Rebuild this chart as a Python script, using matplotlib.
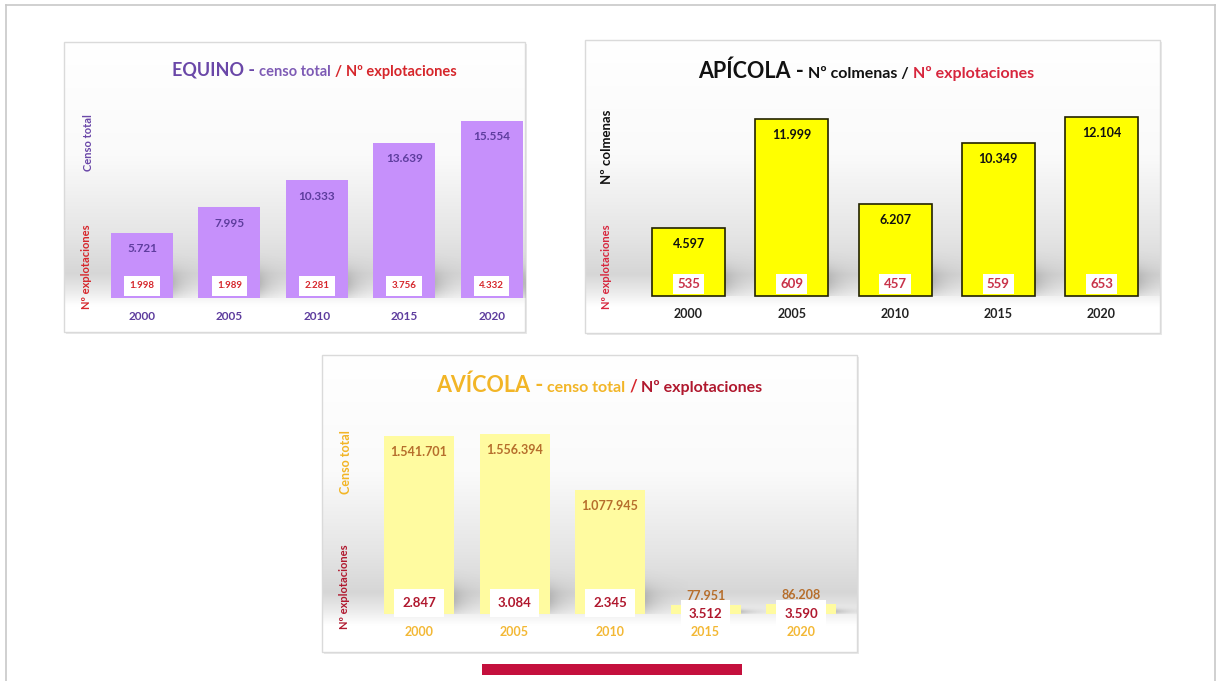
import numpy as np
import matplotlib
matplotlib.use("Agg")
import matplotlib.pyplot as plt
from matplotlib.patches import Rectangle

plt.rcParams['font.family'] = ['Lato', 'DejaVu Sans']

# ---- data -------------------------------------------------------------
years = ["2000", "2005", "2010", "2015", "2020"]
equino_censo = [5721, 7995, 10333, 13639, 15554]
equino_explot = [1998, 1989, 2281, 3756, 4332]
apicola_colmenas = [4597, 11999, 6207, 10349, 12104]
apicola_explot = [535, 609, 457, 559, 653]
avicola_censo = [1541701, 1556394, 1077945, 77951, 86208]
avicola_explot = [2847, 3084, 2345, 3512, 3590]

W, H = 1218, 681
fig = plt.figure(figsize=(W / 100, H / 100), dpi=100)
fig.patch.set_facecolor('white')

page = fig.add_axes([0, 0, 1, 1])
page.axis('off')
page.set_xlim(0, W)
page.set_ylim(H, 0)


def miles(v):
    return f"{v:,}".replace(",", ".")


def px_axes(x0, y0, x1, y1):
    ax = fig.add_axes([x0 / W, 1 - y1 / H, (x1 - x0) / W, (y1 - y0) / H])
    ax.patch.set_alpha(0)
    for s in ax.spines.values():
        s.set_visible(False)
    ax.set_xticks([])
    ax.set_yticks([])
    return ax


def panel_background(x0, y0, x1, y1):
    page.add_patch(Rectangle((x0 + 2, y0 + 2), x1 - x0, y1 - y0,
                             fc='#e9e9e9', ec='none', zorder=0))
    rel = np.linspace(0, 1, 400)
    shade = np.interp(rel, [0, 0.40, 0.66, 0.80, 0.86, 0.91, 1.0],
                      [0, 0.02, 0.10, 0.16, 0.08, 0.0, 0.0])
    g = 1 - shade
    img = np.repeat(np.dstack([g, g, g]).reshape(-1, 1, 3), 2, axis=1)
    page.imshow(img, extent=(x0, x1, y1, y0), aspect='auto',
                interpolation='bilinear', zorder=1)
    page.add_patch(Rectangle((x0, y0), x1 - x0, y1 - y0, fc='none',
                             ec='#dadada', lw=1, zorder=2))
    return Rectangle((x0, y0), x1 - x0, y1 - y0, transform=page.transData)


def title_pieces(cx, baseline, pieces, gap=4):
    renderer = fig.canvas.get_renderer()
    texts, widths = [], []
    for s, size, color in pieces:
        t = page.text(0, baseline, s, fontsize=size, color=color,
                      fontweight='bold', ha='left', va='baseline', zorder=5)
        texts.append(t)
        widths.append(t.get_window_extent(renderer).width)
    total = sum(widths) + gap * (len(pieces) - 1)
    x = cx - total / 2
    for t, w in zip(texts, widths):
        t.set_x(x)
        x += w + gap


def bar_panel(values, explot, clip, c0, sp, wpx, base, k, top_px,
              bar_kw, val_color, val_size, exp_color, exp_size, exp_pad,
              year_color, year_size, exp_off=12, small_exp_off=1):
    n = len(values)
    left = c0 - 0.5 * sp
    right = c0 + (n - 0.5) * sp
    ax = px_axes(left, top_px, right, base + 30)
    w = wpx / sp
    xs = np.arange(n)

    # soft shadows on the floor to the right of each bar
    for i, v in enumerate(values):
        hpx = min(v * k, 55)
        nx, ny = 60, 60
        dx = np.linspace(0, 1, nx)[None, :]
        dy = np.linspace(0, 1, ny)[:, None]
        alpha = 0.30 * np.exp(-dx / 0.35) * np.exp(-((dy - 0.25) ** 2) / 0.08)
        rgba = np.zeros((ny, nx, 4))
        rgba[..., :3] = 0.35
        rgba[..., 3] = alpha
        im = ax.imshow(rgba, extent=(i + w / 2, i + w / 2 + 0.45, 0, hpx / k),
                       origin='lower', aspect='auto',
                       interpolation='bilinear', zorder=1)
        im.set_clip_path(clip)

    ax.bar(xs, values, width=w, zorder=2, **bar_kw)

    for i, (v, e) in enumerate(zip(values, explot)):
        small = v * k < 30
        vy = v + 9 / k if small else v - 16 / k
        ax.text(i, vy, miles(v), ha='center', va='center', color=val_color,
                fontsize=val_size, fontweight='bold', zorder=4)
        ey = (small_exp_off if small else exp_off) / k
        ax.text(i, ey, miles(e), ha='center', va='center', color=exp_color,
                fontsize=exp_size, fontweight='bold', zorder=4,
                bbox=dict(boxstyle=f'square,pad={exp_pad}', fc='white',
                          ec='none'))
        ax.text(i, -18 / k, years[i], ha='center', va='center',
                color=year_color, fontsize=year_size, fontweight='bold',
                zorder=4)

    ax.set_xlim(-0.5, n - 0.5)
    ax.set_ylim(-30 / k, (base - top_px) / k)
    return ax


# ---- page frame ---------------------------------------------------------
page.plot([6, 6], [5, H], color='#c8c8c8', lw=1.2, zorder=0)
page.plot([6, 1215], [5, 5], color='#c8c8c8', lw=1.2, zorder=0)
page.plot([1215, 1215], [5, H], color='#c8c8c8', lw=1.2, zorder=0)
page.add_patch(Rectangle((482, 664), 260, 11, fc='#C4103D', ec='none',
                         zorder=2))

# ---- EQUINO ------------------------------------------------------------
clip1 = panel_background(64, 42, 525, 332)
title_pieces(314, 76, [("EQUINO -", 13, '#6A47A8'),
                       ("censo total", 10.5, '#7E5BB5'),
                       ("/", 11, '#D6262B'),
                       ("Nº explotaciones", 10.5, '#D6262B')])
page.text(88, 143, "Censo total", rotation=90, ha='center', va='center',
          color='#6A47A8', fontsize=8, fontweight='bold', zorder=5)
page.text(86, 267, "Nº explotaciones", rotation=90, ha='center',
          va='center', color='#D6262B', fontsize=8, fontweight='bold',
          zorder=5)
bar_panel(equino_censo, equino_explot, clip1, c0=142, sp=87.4, wpx=62,
          base=298, k=177 / 15554, top_px=100,
          bar_kw=dict(color='#C690FB', edgecolor='none'),
          val_color='#5E3D9E', val_size=8.5, exp_color='#D6262B',
          exp_size=7, exp_pad=0.55, year_color='#5E3D9E', year_size=8.5)

# ---- APÍCOLA -----------------------------------------------------------
clip2 = panel_background(585, 40, 1160, 333)
title_pieces(866, 78, [("APÍCOLA -", 15.5, '#111111'),
                       ("Nº colmenas /", 11.5, '#111111'),
                       ("Nº explotaciones", 11.5, '#D7263D')])
page.text(607, 147, "Nº colmenas", rotation=90, ha='center', va='center',
          color='#111111', fontsize=9.5, fontweight='bold', zorder=5)
page.text(607, 267, "Nº explotaciones", rotation=90, ha='center',
          va='center', color='#D7263D', fontsize=8, fontweight='bold',
          zorder=5)
bar_panel(apicola_colmenas, apicola_explot, clip2, c0=688.5, sp=103.25,
          wpx=73, base=296, k=177 / 11999, top_px=100,
          bar_kw=dict(color='#FFFF00', edgecolor='#222200', linewidth=1.2),
          val_color='#111111', val_size=9, exp_color='#C8334A',
          exp_size=9.5, exp_pad=0.3, year_color='#222222', year_size=9)

# ---- AVÍCOLA -----------------------------------------------------------
clip3 = panel_background(322, 355, 857, 652)
title_pieces(599, 392, [("AVÍCOLA -", 15.5, '#F2B526'),
                        ("censo total", 11.5, '#F2B526'),
                        ("/", 12, '#D6262B'),
                        ("Nº explotaciones", 11.5, '#B0182E')])
page.text(346, 462, "Censo total", rotation=90, ha='center', va='center',
          color='#F2B526', fontsize=9, fontweight='bold', zorder=5)
page.text(344, 587, "Nº explotaciones", rotation=90, ha='center',
          va='center', color='#B0182E', fontsize=8, fontweight='bold',
          zorder=5)
bar_panel(avicola_censo, avicola_explot, clip3, c0=419, sp=95.5, wpx=70,
          base=614, k=178 / 1541701, top_px=415,
          bar_kw=dict(color='#FFFBA0', edgecolor='none'),
          val_color='#B66E2C', val_size=9, exp_color='#B0182E',
          exp_size=9.5, exp_pad=0.6, year_color='#F3B835', year_size=9,
          exp_off=11, small_exp_off=0)

fig.savefig("out.png", dpi=100, facecolor='white')
